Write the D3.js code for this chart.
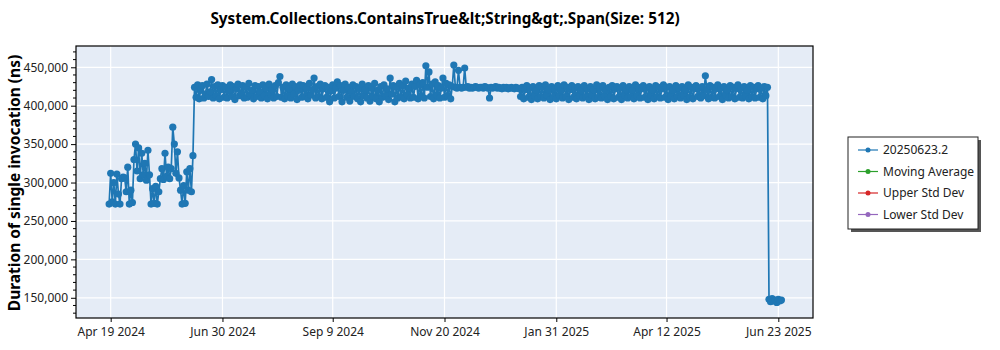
<!DOCTYPE html>
<html>
<head>
<meta charset="utf-8">
<script src="https://cdn.jsdelivr.net/npm/d3@7"></script>
<style>
  body { margin: 0; background: #fff; font-family: "Noto Sans", sans-serif; }
</style>
</head>
<body>
<svg id="chart" width="1000" height="350"></svg>
<script>
// daily runs, values in thousands of ns
const earlyStart = "2024-04-18";
const earlyValues = [272, 312, 275, 300, 272, 311, 285, 272, 305, 307, 306, 288, 320, 272, 290, 274,
  330, 350, 315, 345, 305, 338, 310, 325, 303, 342, 310, 272, 292, 273, 295, 272, 288, 305, 318, 304,
  338, 308, 320, 305, 318, 372, 350, 312, 340, 306, 290, 272, 296, 273, 314, 290, 318, 288, 335];

const midStart = "2024-06-12";
const midValues = [
  424, 411, 427, 409, 420, 426, 410, 415, 428, 412,
  418, 434, 410, 425, 413, 427, 409, 421, 426, 411,
  424, 410, 419, 427, 412, 425, 408, 422, 428, 413,
  417, 426, 410, 424, 411, 429, 414, 420, 409, 426,
  412, 425, 418, 410, 427, 413, 423, 409, 428, 415,
  421, 410, 426, 412, 430, 438, 411, 424, 409, 427,
  413, 422, 410, 428, 415, 425, 408, 420, 427, 411,
  426, 412, 423, 409, 429, 414, 421, 436, 410, 425,
  412, 428, 409, 422, 426, 411, 424, 405, 419, 427,
  410, 423, 431, 412, 426, 405, 420, 428, 411, 424,
  406, 418, 427, 412, 425, 409, 422, 405, 428, 413,
  421, 410, 426, 406, 423, 412, 429, 409, 420, 405,
  425, 411, 427, 413, 422, 408, 436, 415, 426, 405,
  424, 410, 429, 412, 426, 409, 432, 414, 423, 410,
  428, 411, 425, 433, 409, 427, 413, 430, 410, 452,
  424, 444, 412, 428, 409, 431, 414, 426, 410, 423,
  436, 411, 429, 413, 427, 409, 425, 453, 424, 423,
  446, 424, 423, 424, 449, 424, 425, 423, 424, 423,
  424, 425, 424, 423, 424, 424, 423, 425, 424, 423,
  410, 424, 423, 424, 425, 423, 424, 423, 422, 424,
  423, 424, 422, 423, 424, 423, 422, 424, 423, 422,
  412, 424, 409, 421, 426, 411, 423, 408, 425, 413,
  420, 409, 426, 412, 424, 410, 427, 414, 421, 408,
  425, 411, 422, 409, 426, 413, 420, 410, 427, 412,
  424, 408, 421, 426, 411, 423, 409, 425, 413, 420,
  410, 426, 412, 422, 408, 425, 414, 421, 409, 427,
  411, 423, 410, 426, 413, 420, 408, 424, 412, 426,
  409, 422, 425, 411, 423, 408, 426, 414, 421, 410,
  425, 412, 420, 409, 427, 413, 424, 410, 422, 426,
  411, 423, 408, 425, 414, 421, 409, 426, 412, 424,
  410, 422, 427, 411, 424, 408, 425, 413, 420, 409,
  426, 412, 423, 410, 425, 414, 421, 408, 427, 411,
  424, 409, 422, 426, 412, 423, 410, 425, 413, 439,
  421, 409, 426, 411, 424, 410, 422, 427, 412, 423,
  408, 425, 414, 421, 410, 426, 412, 424, 409, 422,
  427, 411, 423, 410, 425, 413, 420, 409, 426, 412,
  424, 410, 422, 426, 411, 423, 409, 425, 413, 424];

const lateStart = "2025-06-17";
const lateValues = [148, 145, 149, 146, 147, 144, 148, 146, 147];

const xTickDates = ["2024-04-19", "2024-06-30", "2024-09-09", "2024-11-20", "2025-01-31", "2025-04-12", "2025-06-23"];
const yTickValues = [150000, 200000, 250000, 300000, 350000, 400000, 450000];

const legendNames = ["20250623.2", "Moving Average", "Upper Std Dev", "Lower Std Dev"];
const legendColors = ["#1f77b4", "#2ca02c", "#d62728", "#9467bd"];

const title = "System.Collections.ContainsTrue&lt;String&gt;.Span(Size: 512)";
const yTitle = "Duration of single invocation (ns)";

const parse = d3.timeParse("%Y-%m-%d");
function run(start, vals) {
  const s = parse(start);
  return vals.map((v, i) => ({ date: d3.timeDay.offset(s, i), value: v * 1000 }));
}
const data = [].concat(run(earlyStart, earlyValues), run(midStart, midValues), run(lateStart, lateValues));

const margin = { left: 76, top: 46 };
const width = 737, height = 272;

const svg = d3.select("#chart");

const x = d3.scaleTime()
  .domain([new Date(2024, 2, 27, 16), new Date(2025, 6, 15, 8)])
  .range([0, width]);
const y = d3.scaleLinear()
  .domain([123700, 477700])
  .range([height, 0]);

svg.append("text")
  .attr("x", 445).attr("y", 24)
  .attr("text-anchor", "middle")
  .style("font-size", "15.3px").style("font-weight", "bold")
  .text(title);

svg.append("text")
  .attr("transform", `translate(20, ${margin.top + height / 2 + 1}) rotate(-90)`)
  .attr("text-anchor", "middle")
  .style("font-size", "15.5px").style("font-weight", "bold")
  .text(yTitle);

const g = svg.append("g").attr("transform", `translate(${margin.left},${margin.top})`);

g.append("rect").attr("width", width).attr("height", height).attr("fill", "#e5ecf6");

const xTicks = xTickDates.map(parse);

// grid
g.append("g").selectAll("line").data(xTicks).enter().append("line")
  .attr("x1", d => x(d)).attr("x2", d => x(d)).attr("y1", 0).attr("y2", height)
  .attr("stroke", "#fff").attr("stroke-width", 1.2);
g.append("g").selectAll("line").data(yTickValues).enter().append("line")
  .attr("y1", d => y(d)).attr("y2", d => y(d)).attr("x1", 0).attr("x2", width)
  .attr("stroke", "#fff").attr("stroke-width", 1.2);

// series
const plot = g.append("g");
const line = d3.line().x(d => x(d.date)).y(d => y(d.value));
plot.append("path").datum(data)
  .attr("fill", "none").attr("stroke", "#1f77b4").attr("stroke-width", 1.7)
  .attr("d", line);
plot.selectAll("circle").data(data).enter().append("circle")
  .attr("cx", d => x(d.date)).attr("cy", d => y(d.value)).attr("r", 3.6)
  .attr("fill", "#1f77b4");

// axes
const xAxis = d3.axisBottom(x).tickValues(xTicks).tickFormat(d3.timeFormat("%b %-d %Y")).tickSize(4).tickSizeOuter(0);
const yAxis = d3.axisLeft(y).tickValues(yTickValues).tickFormat(d3.format(",")).tickSize(5).tickSizeOuter(0);

const xg = g.append("g").attr("transform", `translate(0,${height})`).call(xAxis);
const yg = g.append("g").call(yAxis);
// minor ticks on y
const minor = d3.range(130000, 477700, 10000).filter(v => v % 50000 !== 0);
g.append("g").selectAll("line").data(minor).enter().append("line")
  .attr("x1", -3).attr("x2", 0).attr("y1", d => y(d)).attr("y2", d => y(d))
  .attr("stroke", "#000");

[xg, yg].forEach(a => {
  a.select(".domain").remove();
  a.selectAll("text").style("font-size", "12px").style("font-family", "Noto Sans").attr("fill", "#222");
  a.selectAll("line").attr("stroke", "#000");
});
xg.selectAll("text").attr("dy", "0.9em");

g.append("rect").attr("width", width).attr("height", height)
  .attr("fill", "none").attr("stroke", "#000").attr("stroke-width", 1.2);

// legend
const lg = svg.append("g").attr("transform", "translate(848,137)");
lg.append("rect").attr("x", 3).attr("y", 3).attr("width", 130).attr("height", 92).attr("fill", "#555");
lg.append("rect").attr("width", 130).attr("height", 92).attr("fill", "#fff").attr("stroke", "#222");
legendNames.forEach((n, i) => {
  const row = lg.append("g").attr("transform", `translate(0, ${13 + i * 21.5})`);
  row.append("line").attr("x1", 10).attr("x2", 30).attr("stroke", legendColors[i]).attr("stroke-width", 1.2);
  row.append("circle").attr("cx", 20).attr("r", 2.5).attr("fill", legendColors[i]);
  row.append("text").attr("x", 35).attr("dy", "0.35em").style("font-size", "12px").attr("fill", "#222").text(n);
});
</script>
</body>
</html>
